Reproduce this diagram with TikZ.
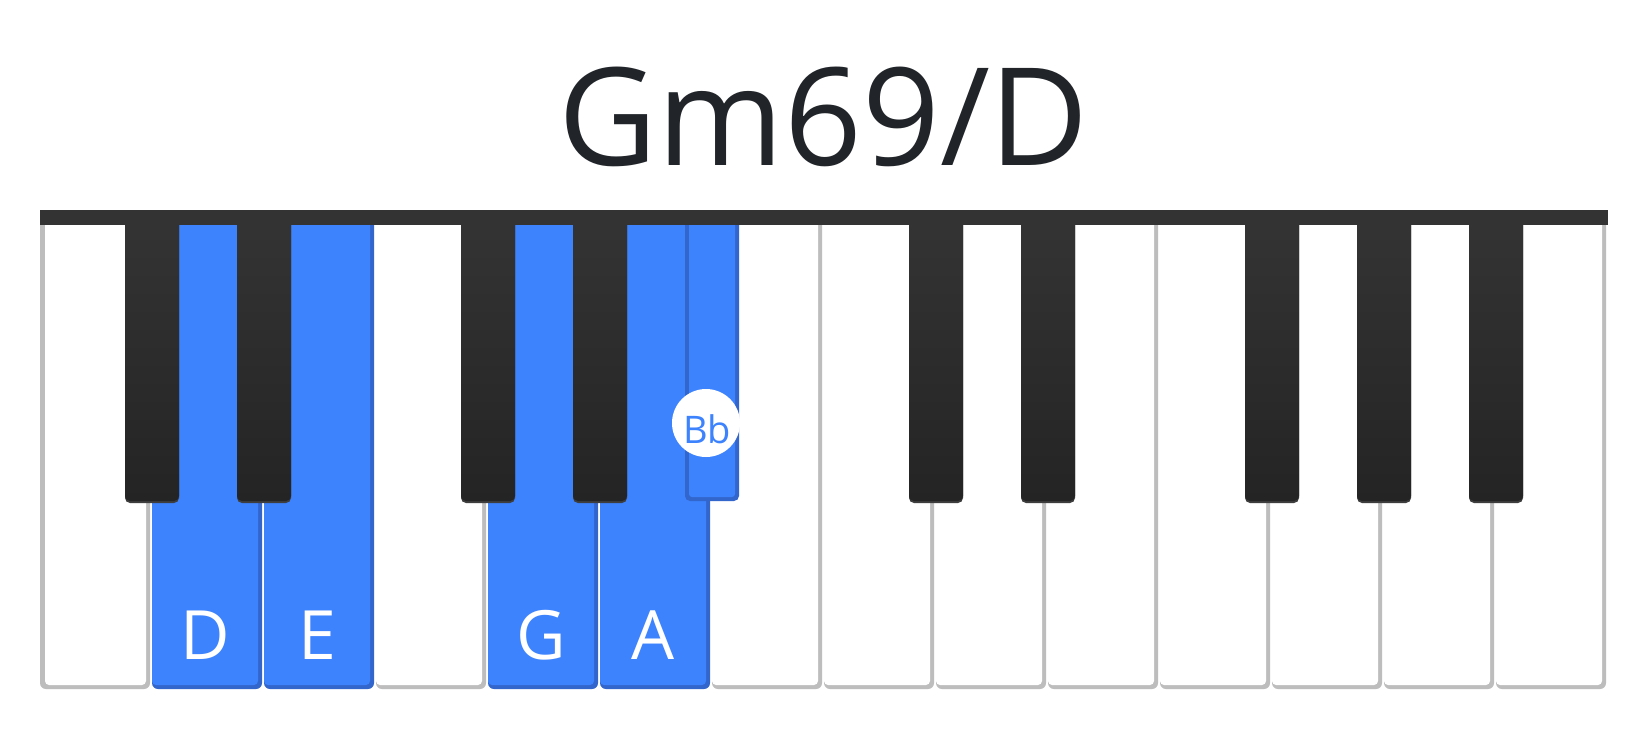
\documentclass[tikz,border=0pt]{standalone}
\usepackage{fontspec}
\setmainfont{Open Sans}
\definecolor{keyblue}{RGB}{61,131,254}
\definecolor{keybluedark}{RGB}{51,102,204}
\definecolor{keygray}{RGB}{189,189,189}
\definecolor{barcol}{RGB}{51,51,51}
\definecolor{blacktop}{RGB}{52,52,52}
\definecolor{blackbot}{RGB}{36,36,36}
\definecolor{blackedge}{RGB}{62,62,62}
\definecolor{titlecol}{RGB}{33,37,41}
\tikzset{
  titletext/.style={anchor=base, text=titlecol, font=\fontsize{136}{140}\selectfont, inner sep=0},
  notetext/.style={anchor=base, text=white, font=\fontsize{68}{70}\selectfont, inner sep=0},
  dottext/.style={anchor=base, text=keyblue, font=\fontsize{38}{40}\selectfont, inner sep=0},
  notedot/.style={circle, fill=white, minimum size=68pt, inner sep=0},
}
\begin{document}
\begin{tikzpicture}[x=1pt,y=-1pt]
\useasboundingbox (0,0) rectangle (1650,740);
\fill[white] (0,0) rectangle (1650,740);
% white keys
\foreach \i in {0,...,13}{
  \pgfmathsetmacro{\xa}{40+112*\i}
  \pgfmathsetmacro{\xb}{\xa+110}
  \pgfmathsetmacro{\xc}{\xa+106}
  \pgfmathsetmacro{\xl}{ifthenelse(\i==0,\xa+5,\xa)}
  \pgfmathtruncatemacro{\hl}{(\i==1)||(\i==2)||(\i==4)||(\i==5)}
  \ifnum\hl=1
    \fill[keybluedark, rounded corners=6pt] (\xa,212) rectangle (\xb,689);
    \fill[keyblue, rounded corners=4pt] (\xl,213) rectangle (\xc,685);
  \else
    \fill[keygray, rounded corners=6pt] (\xa,212) rectangle (\xb,689);
    \fill[white, rounded corners=4pt] (\xl,213) rectangle (\xc,685);
  \fi
}
% black keys
\foreach \k in {1,2,4,5,8,9,11,12,13}{
  \pgfmathsetmacro{\b}{40+112*\k}
  \fill[blackedge, rounded corners=5pt] (\b-27,212) rectangle (\b+27,503);
  \shade[top color=blacktop, bottom color=blackbot, rounded corners=5pt] (\b-27,212) rectangle (\b+27,501);
}
% highlighted black key (Bb)
\fill[keybluedark, rounded corners=5pt] (685,212) rectangle (739,501);
\fill[keyblue, rounded corners=3pt] (689,213) rectangle (735,497);
% top bar
\fill[barcol] (40,210) rectangle (1608,225);
% title
\node[titletext] (title) at (824,165) {Gm69/D};
% note labels
\node[notetext] (nD) at (205,659) {D};
\node[notetext] (nE) at (317,659) {E};
\node[notetext] (nG) at (541,659) {G};
\node[notetext] (nA) at (653,659) {A};
\node[notedot] (dotBb) at (706,423) {};
\node[dottext] (nBb) at (707,443) {Bb};
\end{tikzpicture}
\end{document}
